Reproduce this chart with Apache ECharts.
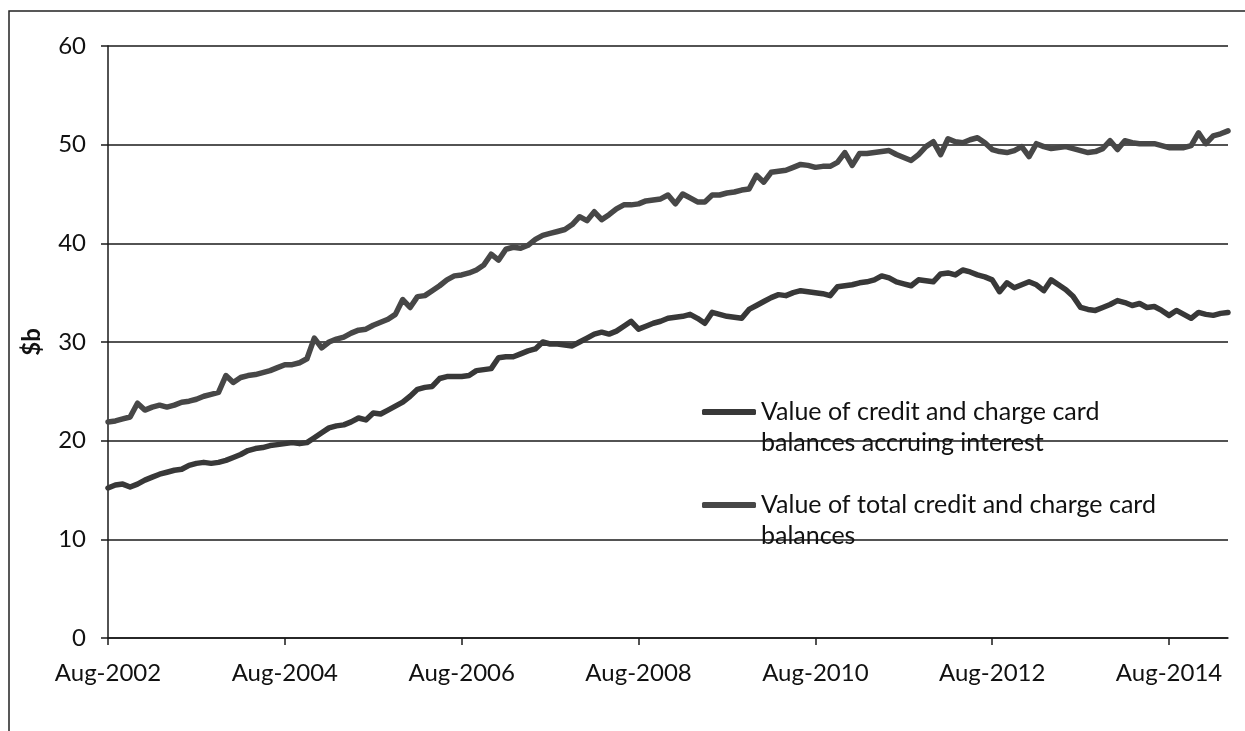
<!DOCTYPE html>
<html>
<head>
<meta charset="utf-8">
<script src="https://cdn.jsdelivr.net/npm/echarts@6/dist/echarts.min.js"></script>
<style>
  html, body { margin: 0; padding: 0; background: #ffffff; }
  #chart { width: 1245px; height: 731px; }
</style>
</head>
<body>
<div id="chart"></div>
<script>
// Monthly card balances, $b, Aug-2002 .. Apr-2015
const monthNames = ['Jan','Feb','Mar','Apr','May','Jun','Jul','Aug','Sep','Oct','Nov','Dec'];
const startYear = 2002;
const startMonth = 7; // Aug

const accruingInterest = [
  15.2, 15.5, 15.6, 15.3, 15.6, 16.0, 16.3, 16.6, 16.8, 17.0, 17.1, 17.5,
  17.7, 17.8, 17.7, 17.8, 18.0, 18.3, 18.6, 19.0, 19.2, 19.3, 19.5, 19.6,
  19.7, 19.8, 19.7, 19.8, 20.3, 20.8, 21.3, 21.5, 21.6, 21.9, 22.3, 22.1,
  22.8, 22.7, 23.1, 23.5, 23.9, 24.5, 25.2, 25.4, 25.5, 26.3, 26.5, 26.5,
  26.5, 26.6, 27.1, 27.2, 27.3, 28.4, 28.5, 28.5, 28.8, 29.1, 29.3, 30.0,
  29.8, 29.8, 29.7, 29.6, 30.0, 30.4, 30.8, 31.0, 30.8, 31.1, 31.6, 32.1,
  31.3, 31.6, 31.9, 32.1, 32.4, 32.5, 32.6, 32.8, 32.4, 31.9, 33.0, 32.8,
  32.6, 32.5, 32.4, 33.3, 33.7, 34.1, 34.5, 34.8, 34.7, 35.0, 35.2, 35.1,
  35.0, 34.9, 34.7, 35.6, 35.7, 35.8, 36.0, 36.1, 36.3, 36.7, 36.5, 36.1,
  35.9, 35.7, 36.3, 36.2, 36.1, 36.9, 37.0, 36.8, 37.3, 37.1, 36.8, 36.6,
  36.3, 35.1, 36.0, 35.5, 35.8, 36.1, 35.8, 35.2, 36.3, 35.8, 35.3, 34.6,
  33.5, 33.3, 33.2, 33.5, 33.8, 34.2, 34.0, 33.7, 33.9, 33.5, 33.6, 33.2,
  32.7, 33.2, 32.8, 32.4, 33.0, 32.8, 32.7, 32.9, 33.0
];

const totalBalances = [
  21.9, 22.0, 22.2, 22.4, 23.8, 23.1, 23.4, 23.6, 23.4, 23.6, 23.9, 24.0,
  24.2, 24.5, 24.7, 24.9, 26.6, 25.9, 26.4, 26.6, 26.7, 26.9, 27.1, 27.4,
  27.7, 27.7, 27.9, 28.3, 30.4, 29.4, 30.0, 30.3, 30.5, 30.9, 31.2, 31.3,
  31.7, 32.0, 32.3, 32.8, 34.3, 33.5, 34.6, 34.7, 35.2, 35.7, 36.3, 36.7,
  36.8, 37.0, 37.3, 37.8, 38.9, 38.3, 39.4, 39.6, 39.5, 39.8, 40.4, 40.8,
  41.0, 41.2, 41.4, 41.9, 42.7, 42.3, 43.2, 42.4, 42.9, 43.5, 43.9, 43.9,
  44.0, 44.3, 44.4, 44.5, 44.9, 44.0, 45.0, 44.6, 44.2, 44.2, 44.9, 44.9,
  45.1, 45.2, 45.4, 45.5, 46.9, 46.2, 47.2, 47.3, 47.4, 47.7, 48.0, 47.9,
  47.7, 47.8, 47.8, 48.2, 49.2, 47.9, 49.1, 49.1, 49.2, 49.3, 49.4, 49.0,
  48.7, 48.4, 49.0, 49.8, 50.3, 49.0, 50.6, 50.3, 50.2, 50.5, 50.7, 50.2,
  49.5, 49.3, 49.2, 49.4, 49.8, 48.8, 50.1, 49.8, 49.6, 49.7, 49.8, 49.6,
  49.4, 49.2, 49.3, 49.6, 50.4, 49.5, 50.4, 50.2, 50.1, 50.1, 50.1, 49.9,
  49.7, 49.7, 49.7, 49.9, 51.2, 50.1, 50.9, 51.1, 51.4
];

const yTicks = [0, 10, 20, 30, 40, 50, 60];
const labelEvery = 24; // one x label every two years

const seriesNames = [
  'Value of credit and charge card balances accruing interest',
  'Value of total credit and charge card balances'
];
const legendLines = {
  [seriesNames[0]]: ['Value of credit and charge card', 'balances accruing interest'],
  [seriesNames[1]]: ['Value of total credit and charge card', 'balances']
};

// Month labels such as "Aug-2002"
const categories = accruingInterest.map((_, i) => {
  const m = startMonth + i;
  return monthNames[m % 12] + '-' + (startYear + Math.floor(m / 12));
});

const FONT = 'Lato';
const LINE_H = 31;
const INK = '#111111';
const RULE = '#1a1a1a';

// Each legend entry wraps onto a second line; a leading empty line keeps
// the swatch level with the first line of its text.
function legendFor(name, swatchY) {
  return {
    data: [name],
    left: 702,
    top: swatchY - 1.5 * LINE_H,
    padding: 0,
    itemWidth: 54,
    itemHeight: 6,
    icon: 'roundRect',
    selectedMode: false,
    formatter: n => '\n' + legendLines[n].join('\n'),
    textStyle: {
      fontFamily: FONT,
      fontSize: 25,
      color: INK,
      lineHeight: LINE_H
    }
  };
}

const chart = echarts.init(document.getElementById('chart'), null, { renderer: 'canvas' });
chart.setOption({
  backgroundColor: '#ffffff',
  animation: false,
  textStyle: { fontFamily: FONT },
  graphic: [{
    type: 'rect',
    shape: { x: 9, y: 11, width: 1400, height: 900 },
    style: { fill: 'none', stroke: '#222', lineWidth: 1.5 },
    silent: true,
    z: -1
  }],
  grid: { left: 108, right: 17, top: 46, bottom: 93, containLabel: false },
  legend: [legendFor(seriesNames[0], 412), legendFor(seriesNames[1], 505)],
  xAxis: {
    type: 'category',
    data: categories,
    boundaryGap: false,
    axisLine: { lineStyle: { color: RULE, width: 1.5 } },
    axisTick: {
      show: true,
      length: 7,
      interval: i => i % labelEvery === 0,
      lineStyle: { color: RULE, width: 1.5 }
    },
    axisLabel: {
      interval: i => i % labelEvery === 0,
      margin: 23,
      fontFamily: FONT,
      fontSize: 24,
      color: INK
    },
    splitLine: { show: false }
  },
  yAxis: {
    type: 'value',
    min: yTicks[0],
    max: yTicks[yTicks.length - 1],
    interval: 10,
    name: '$b',
    nameLocation: 'middle',
    nameGap: 64,
    nameRotate: 90,
    nameTextStyle: { fontFamily: FONT, fontSize: 24, fontWeight: 'bold', color: INK },
    axisLine: { show: true, lineStyle: { color: RULE, width: 1.5 } },
    axisTick: { show: true, length: 7, lineStyle: { color: RULE, width: 1.5 } },
    axisLabel: { margin: 22, fontFamily: FONT, fontSize: 24, color: INK },
    splitLine: { show: true, lineStyle: { color: RULE, width: 1.5 } }
  },
  series: [
    {
      name: seriesNames[0],
      type: 'line',
      data: accruingInterest,
      showSymbol: false,
      symbol: 'none',
      color: '#383838',
      lineStyle: { color: '#383838', width: 5.5, join: 'round', cap: 'round' },
      z: 3
    },
    {
      name: seriesNames[1],
      type: 'line',
      data: totalBalances,
      showSymbol: false,
      symbol: 'none',
      color: '#474747',
      lineStyle: { color: '#474747', width: 5.5, join: 'round', cap: 'round' },
      z: 3
    }
  ]
});
</script>
</body>
</html>
